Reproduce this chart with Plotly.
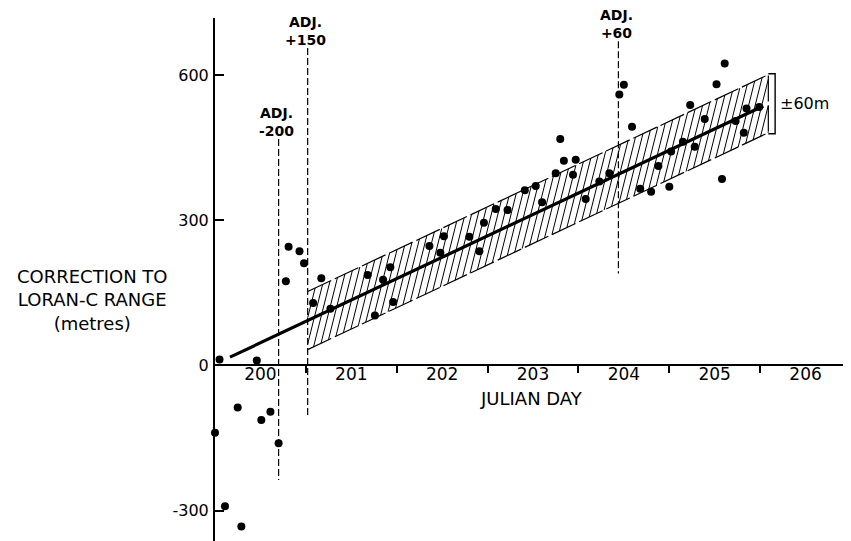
import numpy as np
import plotly.graph_objects as go

# ---- data ----
day = [200.05, 200.46, 200.78, 200.81, 200.93, 200.98, 201.08, 201.17, 201.27,
       201.68, 201.76, 201.85, 201.93, 201.96, 200.25, 200.61, 200.51, 200.00,
       200.70, 200.11, 200.29, 202.36, 202.48, 202.52, 202.80, 202.91, 202.96,
       203.09, 203.22, 203.41, 203.53, 203.60, 203.75, 203.80, 203.84, 203.97,
       203.94, 204.08, 204.23, 204.34, 204.45, 204.50, 204.59, 204.68, 204.80,
       204.88, 205.00, 205.02, 205.15, 205.28, 205.23, 205.39, 205.52, 205.61,
       205.58, 205.73, 205.82, 205.85, 205.99]
correction = [12, 10, 174, 245, 236, 211, 129, 180, 117,
              187, 103, 177, 203, 131, -87, -96, -113, -139,
              -161, -291, -333, 247, 233, 267, 266, 236, 295,
              323, 321, 362, 371, 337, 397, 468, 423, 425,
              394, 344, 380, 397, 560, 580, 493, 365, 359,
              412, 369, 442, 462, 452, 538, 509, 581, 624,
              385, 505, 481, 531, 534]

fit_days = [200.165, 206.035]
fit_vals = [17, 536]
band_days = [201.02, 206.09]
band_half = 60

adj_days = [200.70, 201.02, 204.44]
adj_top = [468, 656, 670]
adj_bottom = [-237, -107, 190]
adj_text = ["-200", "+150", "+60"]

x_label_vals = [200.5, 201.5, 202.5, 203.5, 204.5, 205.5, 206.5]
x_label_text = ["200", "201", "202", "203", "204", "205", "206"]
x_tick_vals = [201, 202, 203, 204, 205, 206, 207]
y_tick_vals = [-300, 0, 300, 600]
y_tick_text = ["-300", "0", "300", "600"]

x_range = [200, 207.0]
y_range = [-363, 718]

FONT = "DejaVu Sans"

slope = (fit_vals[1] - fit_vals[0]) / (fit_days[1] - fit_days[0])


def fit(x):
    return fit_vals[0] + slope * (np.asarray(x) - fit_days[0])


# hatch lines inside the +-60 m band (steep "/" strokes)
hatch_slope = 750.0
hatch_step = 0.082
b0, b1 = band_days
t = 2 * band_half / (hatch_slope - slope)
hx, hy = [], []
for s in np.arange(b0 - t, b1, hatch_step):
    xa, xb = max(s, b0), min(s + t, b1)
    if xb <= xa:
        continue
    ya = fit(s) - band_half + hatch_slope * (xa - s)
    yb = fit(s) - band_half + hatch_slope * (xb - s)
    hx += [xa, xb, None]
    hy += [float(ya), float(yb), None]

fig = go.Figure()

fig.add_trace(go.Scatter(x=hx, y=hy, mode="lines",
                         line=dict(color="black", width=1), hoverinfo="skip",
                         showlegend=False))

# band outline
fig.add_trace(go.Scatter(
    x=[b0, b1, None, b0, b1, b1],
    y=[float(fit(b0) - band_half), float(fit(b1) - band_half), None,
       float(fit(b0) + band_half), float(fit(b1) + band_half), float(fit(b1) - band_half)],
    mode="lines", line=dict(color="black", width=1.2, dash="26px,4px"),
    showlegend=False, hoverinfo="skip"))

# bracket for +-60 m
bx = b1 + 0.075
fig.add_trace(go.Scatter(
    x=[b1, bx, bx, b1],
    y=[float(fit(b1) + band_half + 2), float(fit(b1) + band_half + 2),
       float(fit(b1) - band_half - 2), float(fit(b1) - band_half - 2)],
    mode="lines", line=dict(color="black", width=1.4),
    showlegend=False, hoverinfo="skip"))

# adjustment lines
for xd, yt, yb in zip(adj_days, adj_top, adj_bottom):
    fig.add_trace(go.Scatter(x=[xd, xd], y=[yt, yb], mode="lines",
                             line=dict(color="black", width=1.2, dash="7px,3px"),
                             showlegend=False, hoverinfo="skip"))

# fitted line
fig.add_trace(go.Scatter(x=fit_days, y=fit_vals, mode="lines",
                         line=dict(color="black", width=3.2),
                         showlegend=False, hoverinfo="skip"))

# observations
fig.add_trace(go.Scatter(x=day, y=correction, mode="markers",
                         marker=dict(color="black", size=8),
                         showlegend=False, cliponaxis=False))

annotations = []
for xd, yt, txt in zip(adj_days, adj_top, adj_text):
    annotations.append(dict(x=xd, y=yt, xref="x", yref="y",
                            text="<b>ADJ.</b><br><b>" + txt + "</b>",
                            showarrow=False, yanchor="middle", xanchor="center",
                            align="center", yshift=17, xshift=-2,
                            font=dict(size=14, family=FONT, color="black")))

annotations.append(dict(x=bx, y=float(fit(b1)), xref="x", yref="y", text="±60m",
                        showarrow=False, xanchor="left", yanchor="middle", xshift=3,
                        font=dict(size=16, family=FONT, color="black")))
annotations.append(dict(x=0.497, y=-68, xref="paper", yref="y", text="JULIAN DAY",
                        showarrow=False, xanchor="center", yanchor="middle",
                        font=dict(size=18, family=FONT, color="black")))
annotations.append(dict(x=-0.193, y=136, xref="paper", yref="y",
                        text="CORRECTION TO<br>LORAN-C RANGE<br>(metres)",
                        showarrow=False, xanchor="center", yanchor="middle", align="center",
                        font=dict(size=18, family=FONT, color="black")))

# the page body adds an 8 px offset, so the figure is sized to fit the window
fig.update_layout(
    width=843, height=533,
    margin=dict(l=207, r=0, t=10, b=0),
    paper_bgcolor="white", plot_bgcolor="white",
    font=dict(family=FONT, color="black", size=16),
    annotations=annotations,
    xaxis=dict(range=x_range, anchor="free",
               position=(0 - y_range[0]) / (y_range[1] - y_range[0]),
               showline=True, linecolor="black", linewidth=1.8,
               showgrid=False, zeroline=False,
               tickmode="array", tickvals=x_label_vals, ticktext=x_label_text,
               ticks="", ticklabelstandoff=-7,
               tickfont=dict(size=17, family=FONT, color="black"),
               minor=dict(tickmode="array", tickvals=x_tick_vals, ticks="outside",
                          ticklen=7, tickwidth=1.5, tickcolor="black", showgrid=False)),
    yaxis=dict(range=y_range, showline=True, linecolor="black", linewidth=2,
               showgrid=False, zeroline=False,
               tickmode="array", tickvals=y_tick_vals, ticktext=y_tick_text,
               ticks="inside", ticklen=9, tickwidth=2, tickcolor="black",
               ticklabelstandoff=1,
               tickfont=dict(size=16, family=FONT, color="black")),
)

fig.write_html("out.html")
